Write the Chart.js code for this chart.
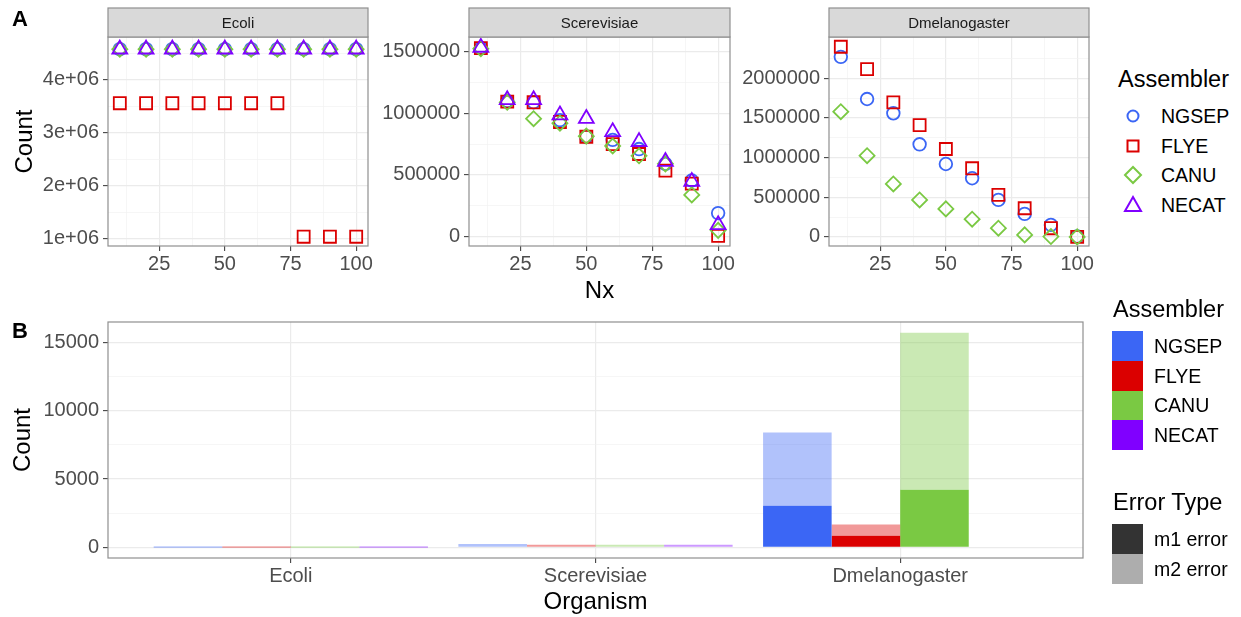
<!DOCTYPE html>
<html><head><meta charset="utf-8">
<script src="https://cdn.jsdelivr.net/npm/chart.js@4.4.1/dist/chart.umd.min.js"></script>
<style>
html,body{margin:0;padding:0;background:#fff;}
#wrap{position:relative;width:1241px;height:617px;overflow:hidden;font-family:"Liberation Sans",Arial,Helvetica,sans-serif;background:#fff;}
canvas{position:absolute;}
.t{position:absolute;white-space:nowrap;color:#000;}
.tag{font-weight:bold;font-size:22px;line-height:26px;}
.ltitle{font-size:23.5px;line-height:28px;}
.ltext{font-size:19.5px;line-height:24px;}
.key{position:absolute;}
</style></head><body>
<div id="wrap">
  <canvas id="cEcoli" width="388" height="310" style="left:0;top:0"></canvas>
  <canvas id="cScer" width="378" height="310" style="left:372px;top:0"></canvas>
  <canvas id="cDmel" width="375" height="310" style="left:734px;top:0"></canvas>
  <canvas id="cBar" width="1090" height="327" style="left:0;top:290px"></canvas>
  <div class="t tag" style="left:12px;top:6px">A</div>
  <div class="t tag" style="left:12px;top:318px">B</div>
  <div id="legTop"></div>
  <div id="legBot"></div>
</div>
<script>
// ---------- data ----------
const nx = [10, 20, 30, 40, 50, 60, 70, 80, 90, 100];
const assemblers = ['NGSEP', 'FLYE', 'CANU', 'NECAT'];

const ecoliNGSEP = [4580000, 4580000, 4580000, 4580000, 4580000, 4580000, 4580000, 4580000, 4580000, 4580000];
const ecoliFLYE  = [3560000, 3560000, 3560000, 3560000, 3560000, 3560000, 3560000, 1040000, 1040000, 1040000];
const ecoliCANU  = [4580000, 4580000, 4580000, 4580000, 4580000, 4580000, 4580000, 4580000, 4580000, 4580000];
const ecoliNECAT = [4580000, 4580000, 4580000, 4580000, 4580000, 4580000, 4580000, 4580000, 4580000, 4580000];

const scerNGSEP = [1530000, 1100000, 1090000, 945000, 810000, 785000, 710000, 590000, 455000, 190000];
const scerFLYE  = [1530000, 1095000, 1090000, 930000, 810000, 750000, 670000, 535000, 430000, 5000];
const scerCANU  = [1525000, 1090000, 957000, 920000, 815000, 735000, 655000, 590000, 338000, 50000];
const scerNECAT = [1535000, 1110000, 1110000, 986000, 957000, 850000, 770000, 608000, 446000, 95000];

const dmelNGSEP = [2270000, 1738000, 1558000, 1167000, 919000, 739000, 466000, 290000, 151000, 5000];
const dmelFLYE  = [2397000, 2116000, 1696000, 1410000, 1108000, 865000, 529000, 361000, 109000, 0];
const dmelCANU  = [1578000, 1024000, 667000, 466000, 353000, 223000, 109000, 25000, 4000, 0];
const dmelNECAT = [null, null, null, null, null, null, null, null, null, null];

const organisms = ['Ecoli', 'Scerevisiae', 'Dmelanogaster'];
const ngsepM1 = [5, 40, 3040];
const ngsepM2 = [20, 200, 5380];
const flyeM1  = [5, 30, 850];
const flyeM2  = [20, 150, 810];
const canuM1  = [5, 30, 4210];
const canuM2  = [20, 150, 11510];
const necatM1 = [5, 40, 0];
const necatM2 = [20, 140, 0];
const errorTypes = ['m1 error', 'm2 error'];

const xTicksMajor = [25, 50, 75, 100];
const xTicksMinor = [12.5, 37.5, 62.5, 87.5];
const ecoliYMajor = [1000000, 2000000, 3000000, 4000000];
const ecoliYMinor = [1500000, 2500000, 3500000, 4500000];
const scerYMajor = [0, 500000, 1000000, 1500000];
const scerYMinor = [250000, 750000, 1250000];
const dmelYMajor = [0, 500000, 1000000, 1500000, 2000000];
const dmelYMinor = [250000, 750000, 1250000, 1750000, 2250000];
const barYMajor = [0, 5000, 10000, 15000];
const barYMinor = [2500, 7500, 12500];

// ---------- style ----------
const colors = ['#3B66F5', '#DB0000', '#7AC943', '#8000FF'];
const fade = (hex, a) => {
  const n = parseInt(hex.slice(1), 16);
  return `rgba(${n >> 16},${(n >> 8) & 255},${n & 255},${a})`;
};
const pStyles = ['circle', 'rect', 'rectRot', 'triangle'];
const pRadii = [6.3, 8.5, 7.5, 8.6];

Chart.defaults.font.family = '"Liberation Sans", Arial, Helvetica, sans-serif';
Chart.defaults.animation = false;
Chart.defaults.responsive = false;
Chart.defaults.devicePixelRatio = 1;
Chart.defaults.plugins.legend.display = false;
Chart.defaults.plugins.tooltip.enabled = false;

const panelPlugin = {
  id: 'panel',
  afterDatasetsDraw(chart, args, opts) {
    const {ctx, chartArea: a} = chart;
    ctx.save();
    ctx.strokeStyle = '#8f8f8f';
    ctx.lineWidth = 1.2;
    ctx.strokeRect(a.left, a.top, a.right - a.left, a.bottom - a.top);
    if (opts.strip) {
      const top = a.top - opts.stripH;
      ctx.fillStyle = '#d9d9d9';
      ctx.fillRect(a.left, top, a.right - a.left, opts.stripH);
      ctx.strokeRect(a.left, top, a.right - a.left, opts.stripH);
      ctx.fillStyle = '#1a1a1a';
      ctx.font = '15px "Liberation Sans", Arial, sans-serif';
      ctx.textAlign = 'center';
      ctx.textBaseline = 'middle';
      ctx.fillText(opts.strip, (a.left + a.right) / 2, top + opts.stripH / 2 + 1);
    }
    ctx.restore();
  }
};

function gridFor(major) {
  const isMaj = c => c.tick && major.includes(c.tick.value);
  return {
    offset: false,
    color: c => isMaj(c) ? '#ebebeb' : '#f2f2f2',
    lineWidth: c => isMaj(c) ? 1.2 : 0.7,
    tickColor: c => isMaj(c) ? '#444' : 'rgba(0,0,0,0)',
    tickWidth: 1.1,
    tickLength: 5,
    drawTicks: true
  };
}

function makeTop(id, strip, series, yMin, yMax, yMajor, yMinor, yFmt, yW, yTitle, xTitle) {
  const xAll = [...xTicksMajor, ...xTicksMinor].sort((a, b) => a - b);
  const yAll = [...yMajor, ...yMinor].sort((a, b) => a - b);
  const datasets = assemblers.map((name, k) => ({
    label: name,
    data: nx.map((x, i) => ({x, y: series[k][i]})),
    pointStyle: pStyles[k],
    pointRadius: pRadii[k],
    pointBorderWidth: 1.8,
    borderColor: colors[k],
    backgroundColor: 'rgba(0,0,0,0)',
    showLine: false,
    order: 3 - k
  }));
  new Chart(document.getElementById(id), {
    type: 'scatter',
    data: {datasets},
    options: {
      layout: {padding: {top: 37, right: 20, left: 0, bottom: 0}},
      scales: {
        x: {
          type: 'linear', min: 5.5, max: 104.5, offset: false,
          afterBuildTicks: s => { s.ticks = xAll.map(v => ({value: v})); },
          afterFit: s => { s.height = 64; },
          ticks: {autoSkip: false, maxRotation: 0, padding: 1, color: '#4d4d4d', font: {size: 20},
                  callback: v => xTicksMajor.includes(v) ? String(v) : ''},
          grid: gridFor(xTicksMajor),
          border: {display: false},
          title: {display: xTitle, text: 'Nx', color: '#000', font: {size: 24}, padding: {top: 0, bottom: 4.6}}
        },
        y: {
          type: 'linear', min: yMin, max: yMax,
          afterBuildTicks: s => { s.ticks = yAll.map(v => ({value: v})); },
          afterFit: s => { s.width = yW; },
          ticks: {autoSkip: false, padding: 4, color: '#4d4d4d', font: {size: 20},
                  callback: v => yMajor.includes(v) ? yFmt(v) : ''},
          grid: gridFor(yMajor),
          border: {display: false},
          title: {display: yTitle, text: 'Count', color: '#000', font: {size: 24}, padding: {top: 10.5, bottom: 0}}
        }
      },
      plugins: {panel: {strip, stripH: 29}}
    },
    plugins: [panelPlugin]
  });
}

const sci = v => (v / 1000000) + 'e+06';
const plain = v => String(v);
makeTop('cEcoli', 'Ecoli', [ecoliNGSEP, ecoliFLYE, ecoliCANU, ecoliNECAT],
        865000, 4810000, ecoliYMajor, ecoliYMinor, sci, 108, true, false);
makeTop('cScer', 'Scerevisiae', [scerNGSEP, scerFLYE, scerCANU, scerNECAT],
        -77000, 1620000, scerYMajor, scerYMinor, plain, 97, false, true);
makeTop('cDmel', 'Dmelanogaster', [dmelNGSEP, dmelFLYE, dmelCANU, dmelNECAT],
        -115000, 2520000, dmelYMajor, dmelYMinor, plain, 95, false, false);

// ---------- bar chart ----------
const barSeries = [[ngsepM1, ngsepM2], [flyeM1, flyeM2], [canuM1, canuM2], [necatM1, necatM2]];
const barSets = [];
assemblers.forEach((name, k) => {
  barSeries[k].forEach((vals, e) => {
    barSets.push({
      label: name + ' ' + errorTypes[e],
      stack: name,
      data: vals.map((v, i) => ({x: i, y: v})),
      backgroundColor: e === 0 ? colors[k] : fade(colors[k], 0.4),
      borderWidth: 0,
      categoryPercentage: 0.9,
      barPercentage: 1
    });
  });
});
const barYAll = [...barYMajor, ...barYMinor].sort((a, b) => a - b);
new Chart(document.getElementById('cBar'), {
  type: 'bar',
  data: {datasets: barSets},
  options: {
    layout: {padding: {top: 32, right: 7, left: 0, bottom: 0}},
    scales: {
      x: {
        type: 'linear', min: -0.6, max: 2.6, stacked: true, offset: false,
        afterBuildTicks: s => { s.ticks = organisms.map((o, i) => ({value: i})); },
        afterFit: s => { s.height = 59; },
        ticks: {autoSkip: false, maxRotation: 0, padding: 1, color: '#4d4d4d', font: {size: 20},
                callback: v => organisms[v] !== undefined ? organisms[v] : ''},
        grid: gridFor([0, 1, 2]),
        border: {display: false},
        title: {display: true, text: 'Organism', color: '#000', font: {size: 24}, padding: {top: 0, bottom: 0}}
      },
      y: {
        type: 'linear', min: -786, max: 16509, stacked: true,
        afterBuildTicks: s => { s.ticks = barYAll.map(v => ({value: v})); },
        afterFit: s => { s.width = 108; },
        ticks: {autoSkip: false, padding: 4, color: '#4d4d4d', font: {size: 20},
                callback: v => barYMajor.includes(v) ? String(v) : ''},
        grid: gridFor(barYMajor),
        border: {display: false},
        title: {display: true, text: 'Count', color: '#000', font: {size: 24}, padding: {top: 8.5, bottom: 0}}
      }
    },
    plugins: {panel: {}}
  },
  plugins: [panelPlugin]
});

// ---------- legends (HTML) ----------
function glyph(k) {
  const c = colors[k];
  const s = 'fill="none" stroke="' + c + '" stroke-width="2"';
  if (k === 0) return '<circle cx="11" cy="11" r="5.5" ' + s + '/>';
  if (k === 1) return '<rect x="5.5" y="5.5" width="11" height="11" ' + s + '/>';
  if (k === 2) return '<polygon points="3,11 11,3 19,11 11,19" ' + s + '/>';
  return '<polygon points="11,3 19,17 3,17" ' + s + '/>';
}
let h = '<div class="t ltitle" style="left:1118px;top:65px">Assembler</div>';
const topRows = [116, 146, 175, 205];
assemblers.forEach((name, k) => {
  h += '<svg class="key" width="22" height="22" style="left:1122px;top:' + (topRows[k] - 11) + 'px">' + glyph(k) + '</svg>';
  h += '<div class="t ltext" style="left:1161px;top:' + (topRows[k] - 12) + 'px">' + name + '</div>';
});
document.getElementById('legTop').innerHTML = h;

let b = '<div class="t ltitle" style="left:1113px;top:295px">Assembler</div>';
const keyH = 29.75;
assemblers.forEach((name, k) => {
  const top = 331 + k * keyH;
  b += '<div class="key" style="left:1112px;top:' + top + 'px;width:31px;height:' + keyH + 'px;background:' + colors[k] + '"></div>';
  b += '<div class="t ltext" style="left:1154px;top:' + (top + keyH / 2 - 12) + 'px">' + name + '</div>';
});
b += '<div class="t ltitle" style="left:1113px;top:488px">Error Type</div>';
const errCols = ['#333333', '#adadad'];
errorTypes.forEach((name, e) => {
  const top = 524 + e * keyH;
  b += '<div class="key" style="left:1112px;top:' + top + 'px;width:31px;height:' + keyH + 'px;background:' + errCols[e] + '"></div>';
  b += '<div class="t ltext" style="left:1154px;top:' + (top + keyH / 2 - 12) + 'px">' + name + '</div>';
});
document.getElementById('legBot').innerHTML = b;
</script>
</body></html>
